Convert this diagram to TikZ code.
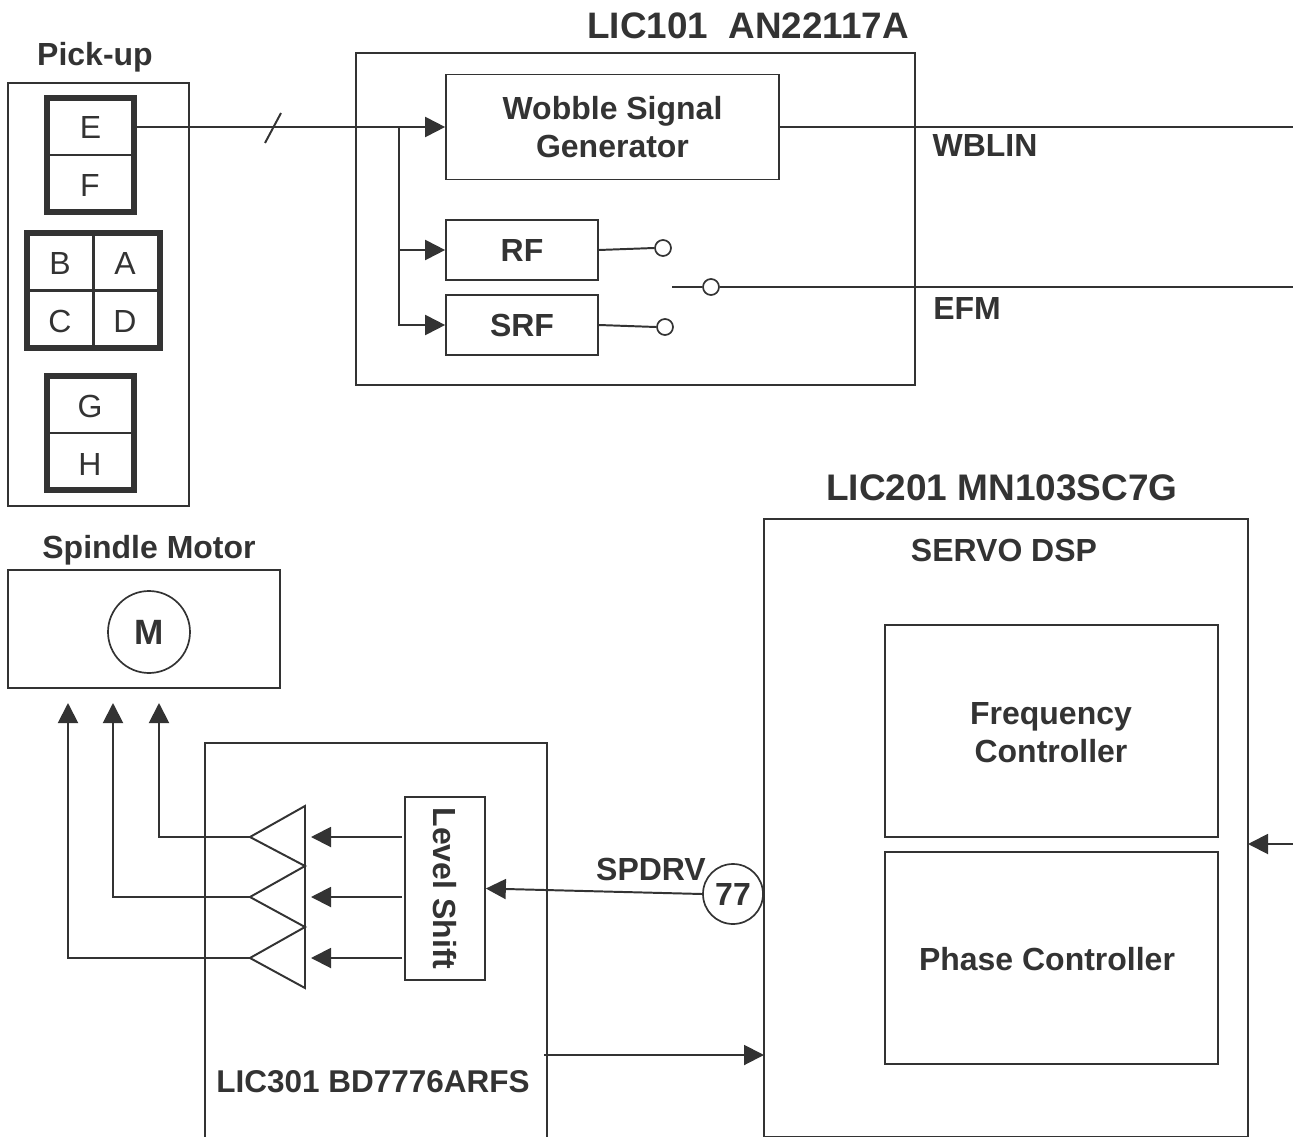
\documentclass[tikz,border=0pt]{standalone}
\usepackage{fontspec}
\setmainfont{Liberation Sans}
\usetikzlibrary{calc,positioning,arrows.meta}
\definecolor{inkgray}{HTML}{333333}
\tikzset{
  thinline/.style={color=inkgray,line width=1.4pt},
  cellline/.style={color=inkgray,line width=1.7pt},
  blockbox/.style={draw=inkgray,line width=1.2pt,inner sep=0pt,align=center},
  sensorbox/.style={draw=inkgray,line width=4.2pt,inner sep=0pt},
  sigarrow/.style={thinline,-{Triangle[length=5mm,width=5mm]}},
  pinring/.style={draw=inkgray,line width=1.2pt,circle,fill=white,inner sep=0pt,minimum size=4mm},
  boldlabel/.style={color=inkgray,inner sep=0pt,align=center,font=\fontsize{22.75}{27}\selectfont\bfseries},
  celllabel/.style={color=inkgray,inner sep=0pt,font=\fontsize{22.75}{27}\selectfont},
}
\begin{document}
\begin{tikzpicture}[x=0.25mm,y=-0.25mm]
	\useasboundingbox (0,0) rectangle (1293,1137);
	%\draw[color=gray,step=100,opacity=0.3] (0,0) grid (1293,1137); %help grid
	% pick-up
	\node[boldlabel] (pickuptitle) at (95,57) {Pick-up};
	\node[blockbox,minimum width=45.25mm,minimum height=105.75mm] (pickup) at (98.5,294.5) {};
	\node[sensorbox,minimum width=21.75mm,minimum height=28.5mm] (efbox) at (90.5,155) {};
	\draw[cellline] (efbox.west)--(efbox.east);
	\node[celllabel,minimum width=21.75mm,minimum height=14.25mm] (e) at (90.5,127) {E};
	\node[celllabel] (f) at (90,185) {F};
	\node[sensorbox,minimum width=33.25mm,minimum height=28.75mm] (abcdbox) at (93.5,290.5) {};
	\draw[cellline] (abcdbox.west)--(abcdbox.east);
	\draw[cellline] (abcdbox.north)--(abcdbox.south);
	\node[celllabel] (b) at (60,263) {B};
	\node[celllabel] (a) at (125,263) {A};
	\node[celllabel] (c) at (60,321) {C};
	\node[celllabel] (d) at (125,321) {D};
	\node[sensorbox,minimum width=21.75mm,minimum height=28.5mm] (ghbox) at (90.5,433) {};
	\draw[cellline] (ghbox.west)--(ghbox.east);
	\node[celllabel] (g) at (90,406) {G};
	\node[celllabel] (h) at (90,464) {H};
	% LIC101
	\node[boldlabel,font=\fontsize{26.2}{27}\selectfont\bfseries] (lictitlea) at (748,26) {LIC101~~AN22117A};
	\node[blockbox,minimum width=139.75mm,minimum height=83mm] (lica) at (635.5,219) {};
	\node[blockbox,boldlabel,draw=inkgray,minimum width=83.25mm,minimum height=26.25mm] (wobble) at (612.5,127) {Wobble Signal\\Generator};
	\node[blockbox,boldlabel,draw=inkgray,minimum width=38mm,minimum height=15mm] (rf) at (522,250) {RF};
	\node[blockbox,boldlabel,draw=inkgray,minimum width=38mm,minimum height=15mm] (srf) at (522,325) {SRF};
	\node[pinring] (rfpin) at (663,248) {};
	\node[pinring] (srfpin) at (665,327) {};
	\node[pinring] (efmpin) at (711,287) {};
	\coordinate (busa) at (399,127);
	\coordinate (efmin) at (672,287);
	\coordinate (wblinout) at (1293,127);
	\coordinate (efmout) at (1293,287);
	\coordinate (slasha) at (265,143);
	\coordinate (slashb) at (281,113);
	\draw[sigarrow] (e.east)--(wobble.west);
	\draw[thinline] (slasha)--(slashb);
	\draw[sigarrow] (busa)|-(rf.west);
	\draw[sigarrow] (busa)|-(srf.west);
	\draw[thinline] (rf.east)--(rfpin.west);
	\draw[thinline] (srf.east)--(srfpin.west);
	\draw[thinline] (efmin)--(efmpin.west);
	\draw[thinline] (efmpin.east)--(efmout);
	\draw[thinline] (wobble.east)--(wblinout);
	\node[boldlabel] (wblin) at (985,145) {WBLIN};
	\node[boldlabel] (efm) at (967,308) {EFM};
	% spindle motor
	\node[boldlabel] (spindletitle) at (149,550) {Spindle Motor};
	\node[blockbox,minimum width=68mm,minimum height=29.5mm] (spindle) at (144,629) {};
	\node[blockbox,boldlabel,draw=inkgray,circle,font=\fontsize{25}{27}\selectfont\bfseries,minimum size=20.5mm] (motor) at (149,632) {M};
	% LIC301
	\node[blockbox,minimum width=85.5mm,minimum height=100mm] (licc) at (376,943) {};
	\node[boldlabel,font=\fontsize{22.4}{27}\selectfont\bfseries] (liccname) at (373,1082) {LIC301 BD7776ARFS};
	\node[blockbox,minimum width=20mm,minimum height=45.75mm] (level) at (445,888.5) {};
	\node[boldlabel,rotate=-90] (levelname) at (445,888.5) {Level Shift};
	\coordinate (ampa) at (250,837);
	\coordinate (ampb) at (250,897);
	\coordinate (ampc) at (250,958);
	\draw[thinline,line join=miter] (305,866)--(305,806)--(ampa)--(305,866)--(ampb)--(305,927)--(ampc)--(305,988)--cycle;
	\coordinate (motora) at (159,703);
	\coordinate (motorb) at (113,703);
	\coordinate (motorc) at (68,703);
	\draw[sigarrow] (ampa)-|(motora);
	\draw[sigarrow] (ampb)-|(motorb);
	\draw[sigarrow] (ampc)-|(motorc);
	\coordinate (shifta) at (402,837);
	\coordinate (shiftb) at (402,897);
	\coordinate (shiftc) at (402,958);
	\coordinate (ampina) at (311,837);
	\coordinate (ampinb) at (311,897);
	\coordinate (ampinc) at (311,958);
	\draw[sigarrow] (shifta)--(ampina);
	\draw[sigarrow] (shiftb)--(ampinb);
	\draw[sigarrow] (shiftc)--(ampinc);
	% LIC201
	\node[boldlabel,font=\fontsize{26.3}{27}\selectfont\bfseries] (lictitleb) at (1002,488) {LIC201 MN103SC7G};
	\node[blockbox,minimum width=121mm,minimum height=154.5mm] (licb) at (1006,828) {};
	\node[boldlabel] (servo) at (1004,550) {SERVO DSP};
	\node[blockbox,minimum width=83.25mm,minimum height=53mm] (freq) at (1051.5,731) {};
	\node[boldlabel] (freqname) at (1051,733) {Frequency\\Controller};
	\node[blockbox,minimum width=83.25mm,minimum height=53mm] (phase) at (1051.5,958) {};
	\node[boldlabel] (phasename) at (1047,959) {Phase Controller};
	\node[blockbox,boldlabel,draw=inkgray,circle,fill=white,minimum size=15mm] (pinsevenseven) at (733,894) {77};
	\node[boldlabel] (spdrv) at (651,869) {SPDRV};
	\draw[sigarrow] (pinsevenseven.west)--(level.east);
	\coordinate (liccout) at (544,1055);
	\coordinate (licbin) at (764,1055);
	\coordinate (licbright) at (1293,844);
	\coordinate (licbedge) at (1248,844);
	\draw[sigarrow] (liccout)--(licbin);
	\draw[sigarrow] (licbright)--(licbedge);
\end{tikzpicture}
\end{document}
